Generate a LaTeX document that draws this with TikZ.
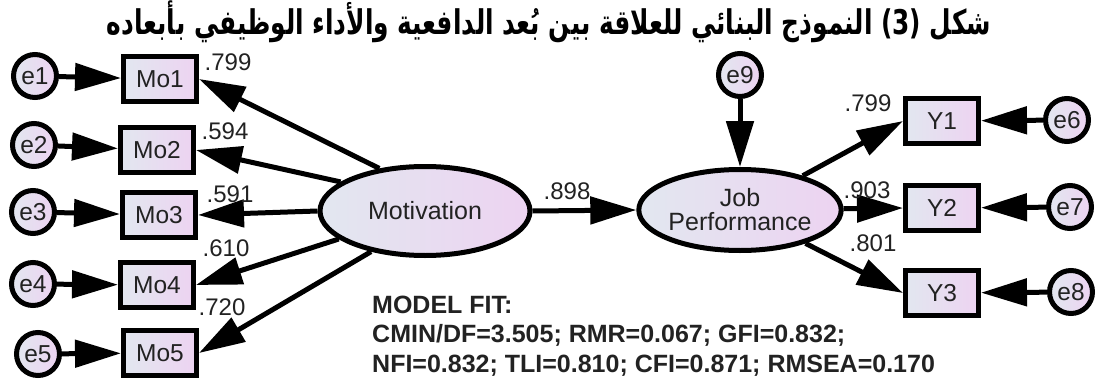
\documentclass[tikz,border=0pt]{standalone}
\usepackage{fontspec}
\setmainfont{Liberation Sans}
\newfontfamily\arabicfont[Script=Arabic]{DejaVu Sans}
\TeXXeTstate=1
\usetikzlibrary{arrows.meta,shapes.geometric}

\definecolor{shadeL}{RGB}{226,231,240}
\definecolor{shadeR}{RGB}{237,211,241}
\definecolor{ink}{RGB}{34,34,34}

\tikzset{
  conn/.style={line width=5pt, -{Triangle[length=46pt,width=27pt]}},
  gradfill/.style={left color=shadeL, right color=shadeR},
  obsbox/.style={draw, line width=5pt, gradfill, minimum width=73pt, minimum height=45pt,
    inner sep=0pt, text=ink, font=\fontsize{24.5}{27}\selectfont},
  errc/.style={circle, draw, line width=5pt, gradfill, minimum size=43pt,
    inner sep=0pt, text=ink, font=\fontsize{24.5}{27}\selectfont},
  latent/.style={ellipse, draw, line width=5pt, gradfill, inner sep=0pt,
    text=ink, align=center, font=\fontsize{25}{27}\selectfont},
  coef/.style={inner sep=0pt, text=ink, font=\fontsize{24}{26}\selectfont},
}

\begin{document}
\begin{tikzpicture}[x=1pt,y=-1pt]
\fill[white] (0,0) rectangle (1098,380);
\useasboundingbox (0,0) rectangle (1098,380);

% heading
\node[inner sep=0pt] (title) at (549,22)
  {\scalebox{0.73}[1]{\arabicfont\bfseries\fontsize{34}{38}\selectfont\beginR شكل \beginL(3)\endL\ النموذج البنائي للعلاقة بين بُعد الدافعية والأداء الوظيفي بأبعاده\endR}};

% latent variables
\node[latent, minimum width=210pt, minimum height=89pt] (mot) at (425,211) {Motivation};
\node[latent, minimum width=183pt, minimum height=81pt] (jp) at (740,210) {Job\\[-3pt]Performance};

% indicators of Motivation
\node[obsbox] (mo1) at (160,79)  {Mo1};
\node[obsbox] (mo2) at (157,150) {Mo2};
\node[obsbox] (mo3) at (159,215) {Mo3};
\node[obsbox] (mo4) at (157,285) {Mo4};
\node[obsbox] (mo5) at (160,353) {Mo5};

% indicators of Job Performance
\node[obsbox] (y1) at (942,121) {Y1};
\node[obsbox] (y2) at (942,208) {Y2};
\node[obsbox] (y3) at (942,293) {Y3};

% error terms
\node[errc] (e1) at (35,76)   {e1};
\node[errc] (e2) at (34,145)  {e2};
\node[errc] (e3) at (33,212)  {e3};
\node[errc] (e4) at (33,284)  {e4};
\node[errc] (e5) at (38,354)  {e5};
\node[errc] (e6) at (1067,120) {e6};
\node[errc] (e7) at (1070,207) {e7};
\node[errc] (e8) at (1071,292) {e8};
\node[errc] (e9) at (740,75)  {e9};

% error paths
\draw[conn] (e1) -- (mo1);
\draw[conn] (e2) -- (mo2);
\draw[conn] (e3) -- (mo3);
\draw[conn] (e4) -- (mo4);
\draw[conn] (e5) -- (mo5);
\draw[conn] (e6) -- (y1);
\draw[conn] (e7) -- (y2);
\draw[conn] (e8) -- (y3);
\draw[conn] (e9) -- (jp);

% loadings
\draw[conn] (mot.137.5) -- (mo1.east);
\draw[conn] (mot.161)   -- (mo2.east);
\draw[conn] (mot.180)   -- (mo3.east);
\draw[conn] (mot.198.6) -- (mo4.east);
\draw[conn] (mot.217)   -- (mo5.east);
\draw[conn] (mot.east)  -- (jp.west);
\draw[conn] (jp) -- (y1.west);
\draw[conn] (jp) -- (y2.west);
\draw[conn] (jp) -- (y3.west);

% coefficients
\node[coef] (c1) at (228,62)  {.799};
\node[coef] (c2) at (225,131) {.594};
\node[coef] (c3) at (230,194) {.591};
\node[coef] (c4) at (226,248) {.610};
\node[coef] (c5) at (222,307) {.720};
\node[coef] (c6) at (567,191) {.898};
\node[coef] (c7) at (868,103) {.799};
\node[coef] (c8) at (867,190) {.903};
\node[coef] (c9) at (873,243) {.801};

% fit indices
\node[anchor=west, align=left, inner sep=0pt, text=ink,
      font=\bfseries\fontsize{25}{29.5}\selectfont] (fit) at (372,336)
  {MODEL FIT:\\CMIN/DF=3.505; RMR=0.067; GFI=0.832;\\NFI=0.832; TLI=0.810; CFI=0.871; RMSEA=0.170};
\end{tikzpicture}
\end{document}
